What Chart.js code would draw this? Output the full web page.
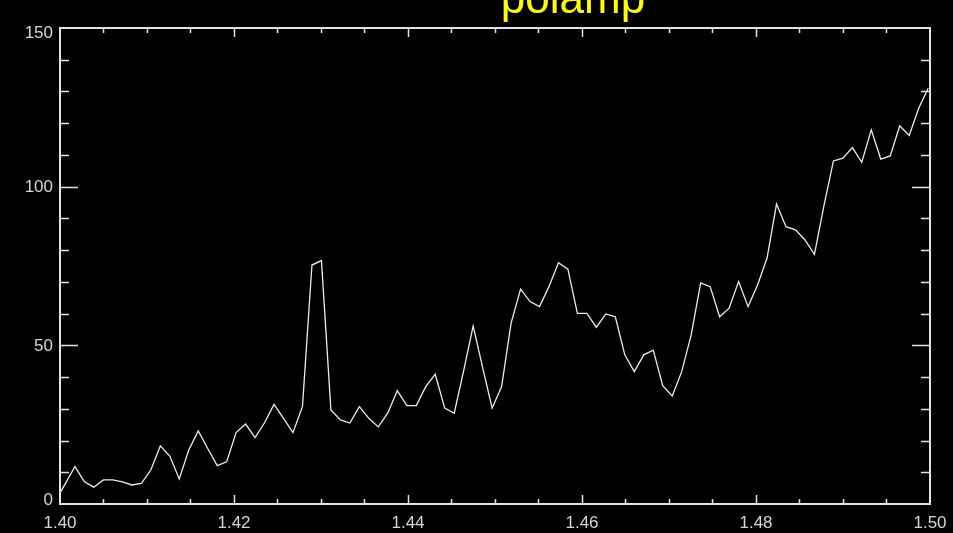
<!DOCTYPE html>
<html>
<head>
<meta charset="utf-8">
<script src="https://cdn.jsdelivr.net/npm/chart.js@4/dist/chart.umd.min.js"></script>
<style>
  html, body { margin: 0; padding: 0; background: #000; }
  canvas { display: block; }
</style>
</head>
<body>
<canvas id="c" width="953" height="533"></canvas>
<script>
// Wavelength samples (x) and the polamp signal measured at each one (y)
const wavelengths = [
  1.39954, 1.40063, 1.40172, 1.40281, 1.40390, 1.40499, 1.40608, 1.40717, 1.40826, 1.40935,
  1.41044, 1.41153, 1.41262, 1.41371, 1.41480, 1.41589, 1.41698, 1.41807, 1.41916, 1.42024,
  1.42133, 1.42242, 1.42351, 1.42460, 1.42569, 1.42678, 1.42787, 1.42896, 1.43005, 1.43114,
  1.43223, 1.43332, 1.43441, 1.43550, 1.43659, 1.43768, 1.43877, 1.43986, 1.44095, 1.44204,
  1.44313, 1.44422, 1.44531, 1.44640, 1.44749, 1.44858, 1.44967, 1.45076, 1.45185, 1.45294,
  1.45403, 1.45512, 1.45620, 1.45729, 1.45838, 1.45947, 1.46056, 1.46165, 1.46274, 1.46383,
  1.46492, 1.46601, 1.46710, 1.46819, 1.46928, 1.47037, 1.47146, 1.47255, 1.47364, 1.47473,
  1.47582, 1.47691, 1.47800, 1.47909, 1.48018, 1.48127, 1.48236, 1.48345, 1.48454, 1.48563,
  1.48672, 1.48781, 1.48890, 1.48999, 1.49108, 1.49216, 1.49325, 1.49434, 1.49543, 1.49652,
  1.49761, 1.49870, 1.49979
];
const polamp = [
  1.3, 6.5, 11.8, 7.0, 5.3, 7.6, 7.6, 7.0, 6.0, 6.5,
  10.7, 18.3, 15.1, 7.9, 17.0, 23.0, 17.5, 12.1, 13.3, 22.5,
  25.2, 20.9, 25.6, 31.4, 27.0, 22.5, 30.7, 75.3, 76.7, 29.6,
  26.5, 25.5, 30.7, 27.0, 24.3, 28.7, 35.7, 31.0, 31.0, 37.0,
  40.9, 30.2, 28.6, 42.0, 56.1, 43.0, 30.2, 37.0, 57.0, 67.7,
  63.8, 62.2, 68.5, 76.0, 74.0, 60.1, 60.1, 55.7, 59.9, 59.0,
  47.0, 41.7, 47.0, 48.5, 37.3, 34.0, 41.7, 53.3, 69.7, 68.5,
  59.0, 61.7, 70.1, 62.2, 69.0, 77.5, 94.5, 87.4, 86.4, 83.2,
  78.7, 94.0, 108.1, 109.0, 112.3, 107.7, 117.9, 108.7, 109.7, 119.2,
  116.1, 124.7, 131.0
];

// Axis settings
const xRange = [1.40, 1.50];
const xMajorStep = 0.02;
const xMinorStep = 0.005;
const yRange = [0, 150];
const yMajorStep = 50;
const yMinorStep = 10;
const titleText = 'polamp';

const axisColor = '#e4e4e4';
const labelColor = '#d6d6d6';
const labelFont = { family: '"Liberation Sans", Arial, sans-serif', size: 17 };

// Vertical nudge of the y labels so the end labels stay inside the frame
const yLabelNudge = { 0: -4, 50: 1, 100: 1, 150: 5 };

// Black page background
const background = {
  id: 'background',
  beforeDraw(chart) {
    const ctx = chart.ctx;
    ctx.save();
    ctx.fillStyle = '#000';
    ctx.fillRect(0, 0, chart.width, chart.height);
    ctx.restore();
  }
};

// Shift y tick labels after Chart.js has laid them out
const yLabelShift = {
  id: 'yLabelShift',
  beforeDraw(chart) {
    const y = chart.scales.y;
    const items = y.getLabelItems(chart.chartArea);
    items.forEach((it, i) => {
      const v = y.ticks[i] && y.ticks[i].value;
      const d = yLabelNudge[v];
      if (d && it.options && it.options.translation) {
        it.options.translation[1] += d;
      }
    });
  }
};

// Closed box around the plot with inward-pointing ticks on all four sides
const frame = {
  id: 'frame',
  afterDraw(chart) {
    const { ctx, chartArea: a, scales: { x, y } } = chart;
    ctx.save();
    ctx.strokeStyle = axisColor;
    ctx.lineWidth = 2;
    ctx.strokeRect(a.left, a.top, a.right - a.left, a.bottom - a.top);
    ctx.lineWidth = 1.5;
    ctx.beginPath();
    const nx = Math.round((xRange[1] - xRange[0]) / xMinorStep);
    for (let i = 1; i < nx; i++) {
      const v = xRange[0] + i * xMinorStep;
      const px = Math.round(x.getPixelForValue(v)) + 0.5;
      const len = (i % Math.round(xMajorStep / xMinorStep) === 0) ? 9 : 5;
      ctx.moveTo(px, a.bottom); ctx.lineTo(px, a.bottom - len);
      ctx.moveTo(px, a.top); ctx.lineTo(px, a.top + len);
    }
    const ny = Math.round((yRange[1] - yRange[0]) / yMinorStep);
    for (let i = 1; i < ny; i++) {
      const v = yRange[0] + i * yMinorStep;
      const py = Math.round(y.getPixelForValue(v)) + 0.5;
      const len = (i % Math.round(yMajorStep / yMinorStep) === 0) ? 18 : 9;
      ctx.moveTo(a.left, py); ctx.lineTo(a.left + len, py);
      ctx.moveTo(a.right, py); ctx.lineTo(a.right - len, py);
    }
    ctx.stroke();
    ctx.restore();
  }
};

// Title sitting at the very top edge
const topTitle = {
  id: 'topTitle',
  afterDraw(chart) {
    const ctx = chart.ctx;
    ctx.save();
    ctx.fillStyle = '#ffff00';
    ctx.font = '44px "Liberation Sans", Arial, sans-serif';
    ctx.textAlign = 'center';
    ctx.textBaseline = 'alphabetic';
    ctx.fillText(titleText, 573, 13);
    ctx.restore();
  }
};

new Chart(document.getElementById('c'), {
  type: 'line',
  data: {
    datasets: [{
      data: wavelengths.map((w, i) => ({ x: w, y: polamp[i] })),
      borderColor: '#ececec',
      borderWidth: 1.3,
      pointRadius: 0,
      tension: 0,
      fill: false
    }]
  },
  options: {
    responsive: false,
    animation: false,
    devicePixelRatio: 1,
    layout: { padding: { top: 28, right: 23, left: 0, bottom: 0 } },
    plugins: { legend: { display: false }, tooltip: { enabled: false }, title: { display: false } },
    scales: {
      x: {
        type: 'linear',
        min: xRange[0],
        max: xRange[1],
        grid: { display: false },
        border: { display: false },
        afterFit(s) { s.height = 29; },
        ticks: {
          stepSize: xMajorStep,
          color: labelColor,
          font: labelFont,
          padding: 1,
          maxRotation: 0,
          autoSkip: false,
          callback: v => Number(v).toFixed(2)
        }
      },
      y: {
        type: 'linear',
        min: yRange[0],
        max: yRange[1],
        grid: { display: false, drawTicks: false },
        border: { display: false },
        afterFit(s) { s.width = 60; },
        ticks: {
          stepSize: yMajorStep,
          color: labelColor,
          font: labelFont,
          padding: 7
        }
      }
    }
  },
  plugins: [background, yLabelShift, frame, topTitle]
});
</script>
</body>
</html>
